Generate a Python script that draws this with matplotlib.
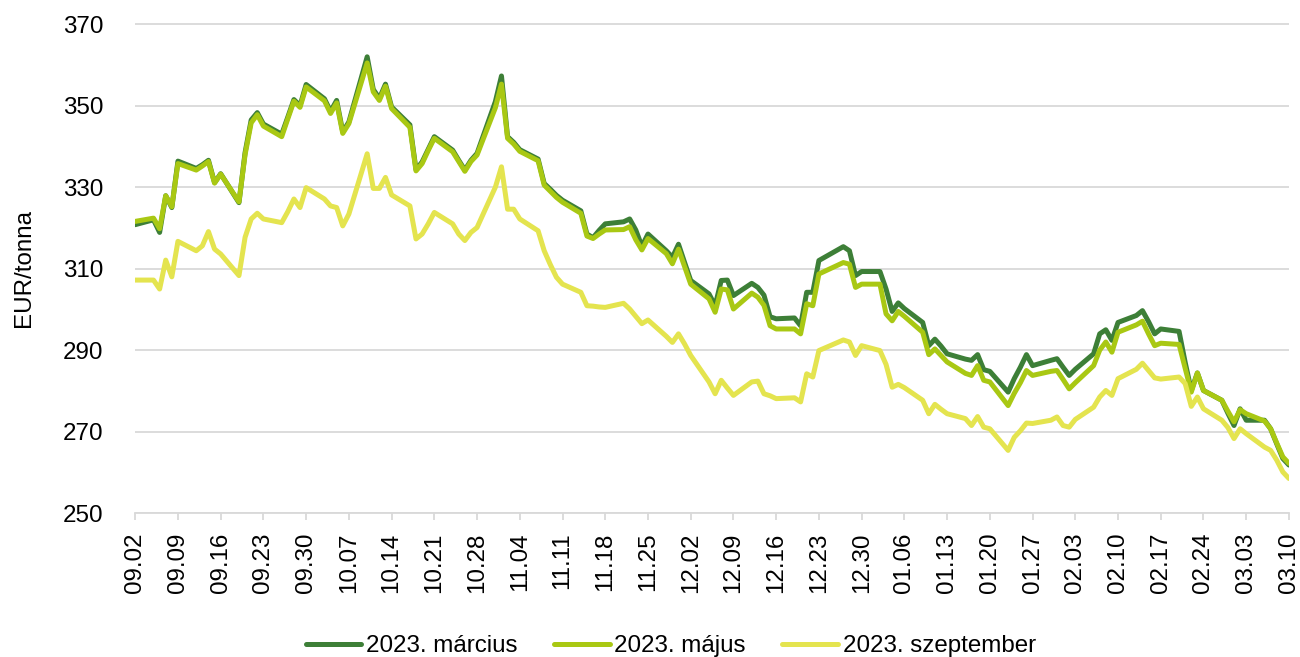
import matplotlib
matplotlib.use('Agg')
import matplotlib.pyplot as plt
import pandas as pd

# trading days (2022-09-02 .. 2023-03-10)
dates = [
    '2022-09-02', '2022-09-05', '2022-09-06', '2022-09-07', '2022-09-08', '2022-09-09',
    '2022-09-12', '2022-09-13', '2022-09-14', '2022-09-15', '2022-09-16',
    '2022-09-19', '2022-09-20', '2022-09-21', '2022-09-22', '2022-09-23',
    '2022-09-26', '2022-09-27', '2022-09-28', '2022-09-29', '2022-09-30',
    '2022-10-03', '2022-10-04', '2022-10-05', '2022-10-06', '2022-10-07',
    '2022-10-10', '2022-10-11', '2022-10-12', '2022-10-13', '2022-10-14',
    '2022-10-17', '2022-10-18', '2022-10-19', '2022-10-20', '2022-10-21',
    '2022-10-24', '2022-10-25', '2022-10-26', '2022-10-27', '2022-10-28',
    '2022-10-31', '2022-11-01', '2022-11-02', '2022-11-03', '2022-11-04',
    '2022-11-07', '2022-11-08', '2022-11-09', '2022-11-10', '2022-11-11',
    '2022-11-14', '2022-11-15', '2022-11-16', '2022-11-17', '2022-11-18',
    '2022-11-21', '2022-11-22', '2022-11-23', '2022-11-24', '2022-11-25',
    '2022-11-28', '2022-11-29', '2022-11-30', '2022-12-01', '2022-12-02',
    '2022-12-05', '2022-12-06', '2022-12-07', '2022-12-08', '2022-12-09',
    '2022-12-12', '2022-12-13', '2022-12-14', '2022-12-15', '2022-12-16',
    '2022-12-19', '2022-12-20', '2022-12-21', '2022-12-22', '2022-12-23',
    '2022-12-27', '2022-12-28', '2022-12-29', '2022-12-30',
    '2023-01-02', '2023-01-03', '2023-01-04', '2023-01-05', '2023-01-06',
    '2023-01-09', '2023-01-10', '2023-01-11', '2023-01-12', '2023-01-13',
    '2023-01-16', '2023-01-17', '2023-01-18', '2023-01-19', '2023-01-20',
    '2023-01-23', '2023-01-24', '2023-01-25', '2023-01-26', '2023-01-27',
    '2023-01-30', '2023-01-31', '2023-02-01', '2023-02-02', '2023-02-03',
    '2023-02-06', '2023-02-07', '2023-02-08', '2023-02-09', '2023-02-10',
    '2023-02-13', '2023-02-14', '2023-02-15', '2023-02-16', '2023-02-17',
    '2023-02-20', '2023-02-21', '2023-02-22', '2023-02-23', '2023-02-24',
    '2023-02-27', '2023-02-28', '2023-03-01', '2023-03-02', '2023-03-03',
    '2023-03-06', '2023-03-07', '2023-03-08', '2023-03-09', '2023-03-10',
]

march = [
    320.8, 322.0, 318.9, 327.9, 325.0, 336.4,
    334.6, 335.5, 336.6, 331.1, 333.3,
    326.2, 338.5, 346.5, 348.3, 345.5,
    343.0, 347.2, 351.5, 350.0, 355.2,
    351.7, 348.6, 351.3, 343.6, 346.0,
    362.0, 354.0, 351.8, 355.3, 349.7,
    345.3, 334.3, 336.2, 339.3, 342.4,
    339.1, 336.6, 334.2, 336.6, 338.3,
    351.0, 357.3, 342.4, 341.0, 339.2,
    336.9, 330.9, 329.5, 328.0, 326.8,
    324.2, 318.5, 317.6, 319.4, 321.0,
    321.5, 322.2, 319.5, 315.5, 318.5,
    314.4, 312.8, 316.0, 311.5, 307.1,
    303.8, 300.9, 307.1, 307.2, 303.4,
    306.4, 305.4, 303.5, 298.2, 297.7,
    297.9, 296.0, 304.2, 304.2, 312.0,
    315.4, 314.4, 308.3, 309.3,
    309.3, 305.0, 299.5, 301.6, 300.2,
    296.8, 291.1, 292.7, 291.0, 289.1,
    287.8, 287.5, 288.9, 285.2, 284.8,
    279.7, 283.0, 285.8, 288.9, 286.2,
    287.5, 287.9, 285.8, 283.8, 285.3,
    289.1, 294.0, 295.0, 292.4, 296.8,
    298.5, 299.7, 297.0, 294.0, 295.2,
    294.6, 287.0, 280.1, 284.4, 280.1,
    277.7, 274.5, 271.5, 275.6, 272.8,
    272.8, 270.7, 267.0, 263.4, 261.8,
]

may = [
    321.6, 322.4, 319.8, 327.9, 325.2, 335.8,
    334.2, 335.2, 336.3, 331.0, 333.2,
    326.4, 338.0, 345.8, 347.8, 345.0,
    342.4, 346.8, 351.1, 349.6, 354.6,
    351.2, 348.1, 350.7, 343.2, 345.6,
    360.5, 353.4, 351.3, 354.8, 349.3,
    344.7, 334.0, 335.8, 339.0, 342.0,
    338.7, 336.3, 333.9, 336.3, 337.9,
    349.5, 355.3, 342.0, 340.6, 338.8,
    336.5, 330.5, 329.0, 327.5, 326.3,
    323.6, 318.0, 317.4, 318.5, 319.5,
    319.6, 320.3, 317.1, 314.6, 317.4,
    313.7, 311.2, 314.8, 310.5, 306.2,
    302.6, 299.3, 305.0, 304.8, 300.1,
    304.0, 303.0, 301.0, 296.0, 295.2,
    295.2, 294.0, 301.4, 300.9, 308.7,
    311.5, 311.1, 305.4, 306.2,
    306.2, 298.9, 297.2, 299.5, 298.3,
    294.4, 288.9, 290.3, 288.7, 287.1,
    284.3, 283.8, 286.2, 282.6, 282.2,
    276.4, 279.4, 282.0, 285.0, 283.8,
    284.8, 285.0, 282.8, 280.5, 282.0,
    286.2, 290.0, 292.0, 289.5, 294.4,
    296.2, 297.1, 294.0, 291.1, 291.7,
    291.4, 285.5, 279.7, 284.4, 280.1,
    277.7, 275.0, 272.4, 275.4, 274.4,
    272.6, 270.7, 267.2, 263.8, 262.2,
]

september = [
    307.2, 307.2, 305.0, 312.1, 308.0, 316.7,
    314.4, 315.6, 319.1, 314.8, 313.6,
    308.3, 317.7, 322.2, 323.6, 322.2,
    321.3, 324.0, 327.1, 325.0, 329.9,
    327.1, 325.4, 325.0, 320.5, 323.4,
    338.2, 329.7, 329.7, 332.4, 328.1,
    325.4, 317.3, 318.5, 321.0, 323.8,
    321.0, 318.5, 316.9, 318.9, 320.1,
    330.0, 335.0, 324.6, 324.6, 322.2,
    319.3, 314.4, 311.0, 307.9, 306.2,
    304.2, 300.9, 300.8, 300.6, 300.5,
    301.5, 300.1, 298.3, 296.5, 297.4,
    293.4, 291.9, 294.0, 291.5, 288.7,
    282.2, 279.3, 282.6, 280.7, 278.9,
    282.2, 282.4, 279.3, 278.8, 278.1,
    278.3, 277.3, 284.2, 283.4, 289.9,
    292.5, 292.0, 288.7, 291.1,
    289.9, 286.5, 280.9, 281.6, 280.8,
    277.7, 274.4, 276.7, 275.5, 274.4,
    273.2, 271.5, 273.7, 271.1, 270.7,
    265.4, 268.6, 270.2, 272.1, 272.0,
    272.8, 273.6, 271.5, 271.1, 273.0,
    276.0, 278.5, 280.1, 278.9, 283.0,
    285.3, 286.8, 285.0, 283.2, 282.9,
    283.4, 281.8, 276.2, 278.5, 275.6,
    272.8, 271.0, 268.3, 270.7, 269.5,
    266.2, 265.4, 263.0, 260.1, 258.5,
]

labels = ['2023. március', '2023. május', '2023. szeptember']
colors = ['#3D7F37', '#A9C813', '#E4E44F']

plt.rcParams['font.family'] = ['Liberation Sans', 'DejaVu Sans']

x = pd.to_datetime(dates)

fig = plt.figure(figsize=(13, 6.57), dpi=100)
ax = fig.add_axes([0.104, 0.219, 0.8875, 0.746])

for series, label, color in zip([march, may, september], labels, colors):
    ax.plot(x, series, color=color, lw=3.6, label=label,
            solid_joinstyle='round', solid_capstyle='round')

ax.set_ylim(250, 370.3)
ax.set_yticks(range(250, 371, 20))
ax.set_xlim(x[0], x[-1])
ticks = pd.date_range(x[0], x[-1], freq='7D')
ax.set_xticks(ticks)
ax.set_xticklabels([t.strftime('%m.%d') for t in ticks], rotation=90)

ax.grid(axis='y', color='#D9D9D9', lw=1.3)
ax.set_axisbelow(True)
for side in ['left', 'right', 'top']:
    ax.spines[side].set_visible(False)
ax.spines['bottom'].set_color('#D9D9D9')
ax.spines['bottom'].set_linewidth(1.3)
ax.tick_params(axis='x', length=5, color='#D9D9D9', width=1.3, pad=9, labelsize=17.4)
ax.tick_params(axis='y', length=0, pad=23, labelsize=17.4)

ax.set_ylabel('EUR/tonna', fontsize=17.4)
ax.yaxis.set_label_coords(-0.087, 0.5)

fig.legend(loc='center', bbox_to_anchor=(0.516, 0.016), ncol=3, frameon=False,
           fontsize=17.4, handlelength=2.3, handletextpad=0.2, columnspacing=1.5)

fig.savefig('out.png', dpi=100)
